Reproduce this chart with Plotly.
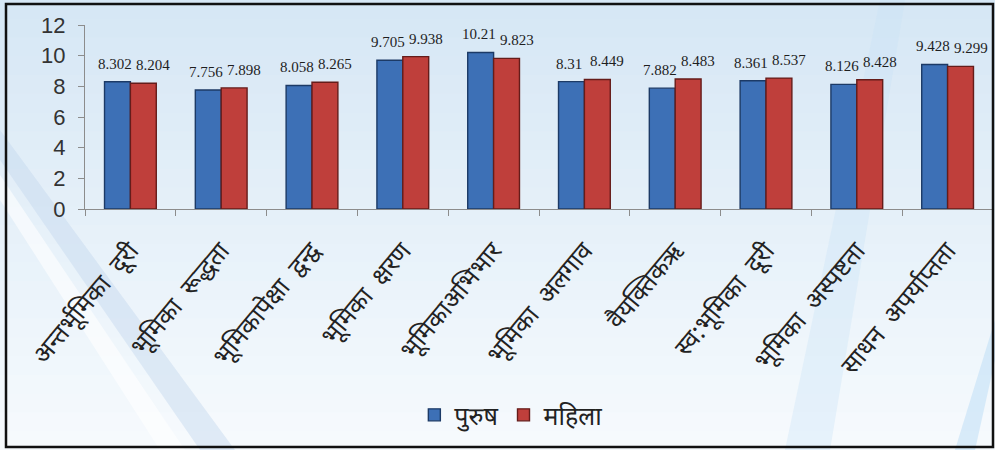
import plotly.graph_objects as go

categories = [
    "अन्तर्भूमिका दूरी",
    "भूमिका रूद्धता",
    "भूमिकापेक्षा द्वन्द्व",
    "भूमिका क्षरण",
    "भूमिकाअभिभार",
    "भूमिका अलगाव",
    "वैयक्तिकऋ",
    "स्व:भूमिका दूरी",
    "भूमिका अस्पष्टता",
    "साधन अपर्याप्तता",
]
purush = [8.302, 7.756, 8.058, 9.705, 10.21, 8.31, 7.882, 8.361, 8.126, 9.428]
mahila = [8.204, 7.898, 8.265, 9.938, 9.823, 8.449, 8.483, 8.537, 8.428, 9.299]
y_ticks = [0, 2, 4, 6, 8, 10, 12]

BLUE = "#3d70b6"
RED = "#bf3f3b"
DEVA = "Noto Sans Devanagari, Noto Sans, DejaVu Sans"

# wider word gap in the category captions
tick_text = [c.replace(" ", "\u00a0 ") for c in categories]

fig = go.Figure()
fig.add_trace(go.Bar(
    name="पुरुष", x=categories, y=purush, offsetgroup="p",
    marker=dict(color=BLUE, line=dict(color="#1c3a66", width=1.4)),
))
fig.add_trace(go.Bar(
    name="महिला", x=categories, y=mahila, offsetgroup="m",
    marker=dict(color=RED, line=dict(color="#651c1a", width=1.4)),
))

# value labels above each bar, taken from the same series
annotations = []
for series, dx in ((purush, -15), (mahila, 23)):
    for cat, v in zip(categories, series):
        annotations.append(dict(
            x=cat, y=v, xref="x", yref="y", text=str(v), showarrow=False,
            xshift=dx, yanchor="bottom", yshift=8,
            font=dict(family="Liberation Serif", size=15, color="#1e1e1e"),
        ))

# pale blue backdrop fading toward white at the bottom
shapes = []
n_bands = 24
top = (214, 231, 245)
bottom = (246, 250, 253)
for i in range(n_bands):
    t = i / (n_bands - 1)
    c = tuple(round(top[k] + (bottom[k] - top[k]) * t) for k in range(3))
    y1 = 1 + 25 / 184 - i * (450 / 184) / n_bands
    y0 = y1 - (450 / 184) / n_bands - 0.005
    shapes.append(dict(type="rect", xref="paper", yref="paper",
                       x0=-85 / 908, x1=1 + 2 / 908, y0=y0, y1=y1,
                       fillcolor="rgb(%d,%d,%d)" % c, line=dict(width=0),
                       layer="below"))


def px(x, y):
    return (x - 85) / 908, (209 - y) / 184


# diagonal light streaks
streaks = [
    ([(0, 130), (0, 160), (200, 450), (235, 450)], "rgba(195,216,238,0.45)"),
    ([(0, 175), (0, 200), (160, 450), (185, 450)], "rgba(255,255,255,0.6)"),
    ([(785, 450), (830, 450), (905, 0), (880, 0)], "rgba(200,225,245,0.35)"),
    ([(955, 450), (975, 450), (995, 360), (995, 320)], "rgba(185,220,245,0.5)"),
]
for pts, col in streaks:
    coords = [px(*p) for p in pts]
    path = "M " + " L ".join("%.4f %.4f" % c for c in coords) + " Z"
    shapes.append(dict(type="path", xref="paper", yref="paper", path=path,
                       fillcolor=col, line=dict(width=0), layer="below"))

# black frame around the whole figure
fx0, fy0 = px(6, 447)
fx1, fy1 = px(993, 4)
shapes.append(dict(type="rect", xref="paper", yref="paper",
                   x0=fx0, x1=fx1, y0=fy0, y1=fy1,
                   line=dict(color="#111", width=2.5), layer="above"))

fig.update_layout(
    width=995, height=450,
    margin=dict(l=85, r=2, t=25, b=241),
    barmode="group", bargap=0.43, bargroupgap=0,
    paper_bgcolor="#e9f2fa",
    plot_bgcolor="rgba(0,0,0,0)",
    font=dict(family=DEVA, color="#222"),
    showlegend=True,
    legend=dict(orientation="h", x=0.469, xanchor="center", y=-1.12, yanchor="middle",
                font=dict(size=25, family=DEVA, color="#222"),
                bgcolor="rgba(0,0,0,0)", traceorder="normal", itemwidth=30),
    xaxis=dict(
        type="category", tickangle=-50, tickson="boundaries", ticks="outside",
        ticklen=6, tickcolor="#8c8c8c", showline=True, linecolor="#8c8c8c",
        linewidth=1, showgrid=False, ticklabelstandoff=16,
        tickvals=categories, ticktext=tick_text,
        tickfont=dict(size=25, family=DEVA, color="#222"),
    ),
    yaxis=dict(
        range=[0, 12], tickvals=y_ticks, ticks="outside", ticklen=6,
        tickcolor="#8c8c8c", showline=True, linecolor="#8c8c8c", linewidth=1,
        showgrid=False, zeroline=False, ticklabelstandoff=8,
        tickfont=dict(size=22, family="Liberation Sans, Arial", color="#333"),
    ),
    shapes=shapes,
    annotations=annotations,
)

fig.write_html("out.html")
